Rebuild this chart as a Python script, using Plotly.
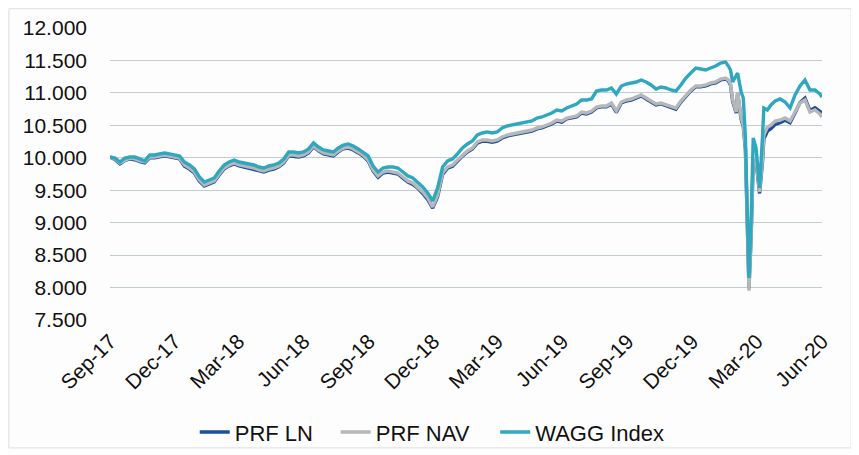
import pandas as pd
import plotly.graph_objects as go

# ---- dates (weekly, with denser sampling through the early-2020 sell-off) ----
dates_a = list(pd.date_range("2017-09-01", "2020-01-17", freq="7D"))
dates_crash = pd.to_datetime([
    "2020-01-21", "2020-01-24", "2020-01-27", "2020-02-01", "2020-02-03",
    "2020-02-08", "2020-02-11", "2020-02-14", "2020-02-16", "2020-02-19",
    "2020-02-22", "2020-02-25", "2020-02-29", "2020-03-02", "2020-03-05",
    "2020-03-09", "2020-03-11", "2020-03-16", "2020-03-21"]).tolist()
dates_b = list(pd.date_range("2020-03-27", "2020-05-29", freq="7D")) + [pd.Timestamp("2020-06-01")]
dates = dates_a + dates_crash + dates_b

wagg_index = [
    10.012, 9.997, 9.935, 9.997, 10.012, 10.012, 9.982, 9.951, 10.043, 10.043,
    10.059, 10.074, 10.059, 10.043, 10.028, 9.935, 9.889, 9.827, 9.704, 9.627,
    9.658, 9.689, 9.797, 9.889, 9.935, 9.966, 9.935, 9.920, 9.904, 9.889,
    9.858, 9.843, 9.874, 9.889, 9.920, 9.982, 10.089, 10.089, 10.074, 10.089,
    10.136, 10.228, 10.166, 10.120, 10.105, 10.089, 10.151, 10.197, 10.213, 10.182,
    10.136, 10.089, 10.028, 9.874, 9.781, 9.843, 9.858, 9.858, 9.843, 9.781,
    9.720, 9.689, 9.627, 9.550, 9.458, 9.334, 9.535, 9.858, 9.951, 9.982,
    10.059, 10.151, 10.213, 10.259, 10.351, 10.382, 10.398, 10.382, 10.398, 10.459,
    10.490, 10.505, 10.521, 10.536, 10.552, 10.567, 10.613, 10.629, 10.659, 10.690,
    10.737, 10.721, 10.767, 10.798, 10.829, 10.891, 10.891, 10.906, 11.029, 11.045,
    11.045, 11.076, 10.983, 11.106, 11.137, 11.153, 11.168, 11.199, 11.168, 11.122,
    11.060, 11.091, 11.076, 11.045, 11.029, 11.122, 11.230, 11.307, 11.384, 11.368,
    11.353, 11.384, 11.414, 11.461, 11.476,
    # sell-off
    11.414, 11.353, 11.168, 11.276, 11.307, 11.014, 10.921, 10.305, 9.535, 8.148,
    9.011, 10.305, 10.151, 9.935, 9.535, 10.305, 10.767, 10.737, 10.814,
    # recovery
    10.875, 10.906, 10.860, 10.767, 10.968, 11.106, 11.199, 11.045, 11.045, 10.983,
    10.937,
]

prf_nav = [
    10.012, 9.982, 9.920, 9.966, 9.997, 9.982, 9.951, 9.935, 10.012, 10.012,
    10.028, 10.043, 10.028, 10.012, 9.997, 9.889, 9.843, 9.781, 9.658, 9.581,
    9.612, 9.643, 9.750, 9.843, 9.889, 9.920, 9.889, 9.874, 9.858, 9.843,
    9.812, 9.797, 9.827, 9.843, 9.874, 9.935, 10.043, 10.043, 10.028, 10.043,
    10.089, 10.182, 10.120, 10.074, 10.059, 10.043, 10.105, 10.151, 10.166, 10.136,
    10.089, 10.043, 9.966, 9.812, 9.720, 9.781, 9.797, 9.781, 9.766, 9.704,
    9.643, 9.612, 9.550, 9.473, 9.381, 9.242, 9.427, 9.766, 9.858, 9.889,
    9.966, 10.043, 10.105, 10.151, 10.243, 10.274, 10.274, 10.259, 10.274, 10.320,
    10.351, 10.367, 10.382, 10.398, 10.413, 10.428, 10.459, 10.475, 10.505, 10.536,
    10.582, 10.567, 10.613, 10.629, 10.644, 10.706, 10.690, 10.721, 10.783, 10.798,
    10.798, 10.844, 10.721, 10.860, 10.891, 10.906, 10.937, 10.968, 10.921, 10.875,
    10.829, 10.844, 10.814, 10.783, 10.767, 10.875, 10.968, 11.045, 11.106, 11.106,
    11.122, 11.153, 11.168, 11.214, 11.230,
    # sell-off
    11.199, 11.137, 10.891, 10.706, 11.014, 10.613, 10.505, 10.151, 9.350, 7.950,
    8.764, 9.966, 9.966, 9.735, 9.473, 9.966, 10.351, 10.475, 10.505,
    # recovery
    10.567, 10.582, 10.613, 10.567, 10.706, 10.844, 10.891, 10.706, 10.737, 10.675,
    10.629,
]

prf_ln = [
    10.012, 9.975, 9.905, 9.955, 9.985, 9.970, 9.940, 9.920, 10.000, 10.000,
    10.015, 10.030, 10.015, 10.000, 9.985, 9.870, 9.825, 9.765, 9.640, 9.565,
    9.595, 9.630, 9.735, 9.830, 9.875, 9.905, 9.875, 9.855, 9.840, 9.825,
    9.795, 9.780, 9.810, 9.825, 9.860, 9.920, 10.030, 10.025, 10.010, 10.030,
    10.075, 10.170, 10.105, 10.060, 10.045, 10.030, 10.090, 10.140, 10.150, 10.120,
    10.075, 10.025, 9.950, 9.795, 9.700, 9.765, 9.780, 9.765, 9.750, 9.685,
    9.625, 9.590, 9.530, 9.450, 9.355, 9.225, 9.400, 9.745, 9.840, 9.870,
    9.950, 10.025, 10.090, 10.135, 10.225, 10.255, 10.255, 10.240, 10.255, 10.305,
    10.335, 10.350, 10.365, 10.380, 10.395, 10.410, 10.445, 10.460, 10.490, 10.520,
    10.565, 10.550, 10.600, 10.615, 10.630, 10.690, 10.675, 10.705, 10.770, 10.785,
    10.785, 10.830, 10.700, 10.845, 10.875, 10.890, 10.925, 10.955, 10.905, 10.860,
    10.815, 10.830, 10.800, 10.770, 10.750, 10.860, 10.955, 11.030, 11.095, 11.095,
    11.110, 11.140, 11.155, 11.200, 11.215,
    # sell-off
    11.185, 11.120, 10.870, 10.690, 10.995, 10.590, 10.480, 10.130, 9.330, 7.990,
    8.750, 9.940, 9.940, 9.710, 9.450, 9.920, 10.290, 10.410, 10.450,
    # recovery
    10.515, 10.540, 10.580, 10.540, 10.690, 10.850, 10.920, 10.730, 10.770, 10.710,
    10.695,
]

series_names = ["PRF LN", "PRF NAV", "WAGG Index"]
series_values = [prf_ln, prf_nav, wagg_index]
series_colors = ["#1d4f9c", "#b5b7b9", "#2fa8bf"]
legend_ids = ["legend", "legend2", "legend3"]
legend_x = [0.119, 0.317, 0.541]

FONT = "Liberation Sans, Arial, sans-serif"

fig = go.Figure()
for name, vals, col, lg in zip(series_names, series_values, series_colors, legend_ids):
    fig.add_trace(go.Scatter(x=dates, y=vals, name=name, mode="lines",
                             line=dict(color=col, width=3.4), legend=lg))

legend_common = dict(orientation="h", y=-0.384, yanchor="middle", xanchor="left",
                     font=dict(size=22, color="#111111"), bgcolor="rgba(0,0,0,0)",
                     itemwidth=30)

# The page body has an 8px default margin, so the figure is sized to fit inside it.
fig.update_layout(
    width=851, height=447,
    margin=dict(l=102, r=37, t=20, b=135, autoexpand=False),
    paper_bgcolor="#fdfdfe", plot_bgcolor="#fdfdfe",
    font=dict(family=FONT, size=21, color="#111111"),
    showlegend=True,
    legend=dict(x=legend_x[0], **legend_common),
    legend2=dict(x=legend_x[1], **legend_common),
    legend3=dict(x=legend_x[2], **legend_common),
    shapes=[dict(type="rect", xref="paper", yref="paper",
                 x0=-0.142, x1=1.041, y0=-0.438, y1=1.066,
                 line=dict(color="#dedede", width=1), layer="below")],
)
fig.update_xaxes(
    type="date", range=["2017-09-01", "2020-06-01"],
    tick0="2017-09-01", dtick="M3", tickformat="%b-%y", tickangle=-45,
    showgrid=False, zeroline=False, showline=False, ticks="",
    tickfont=dict(size=21), ticklabelstandoff=4, automargin=False,
)
fig.update_yaxes(
    range=[7.4995, 12.0005], tick0=7.5, dtick=0.5, tickformat=".3f",
    showgrid=True, gridcolor="#c3ccd0", gridwidth=1.3, zeroline=False, showline=False,
    ticks="", tickfont=dict(size=21), ticklabelstandoff=22, automargin=False,
)

fig.write_html("out.html")
